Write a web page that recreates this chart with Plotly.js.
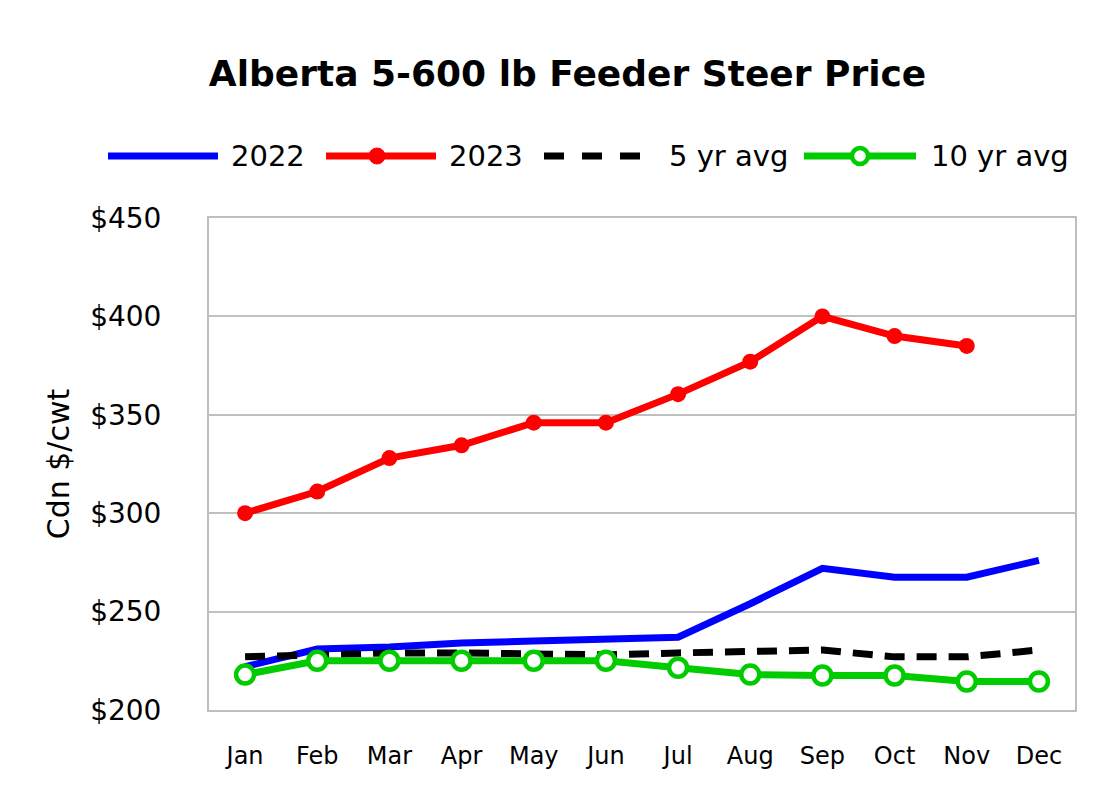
<!DOCTYPE html>
<html><head><meta charset="utf-8">
<script src="https://cdn.plot.ly/plotly-3.0.1.min.js"></script>
<style>html,body{margin:0;padding:0;background:#fff}#chart{width:1115px;height:799px}</style>
</head><body><div id="chart"></div>
<script>
const months = ["Jan","Feb","Mar","Apr","May","Jun","Jul","Aug","Sep","Oct","Nov","Dec"];
const y2022 = [222,231,232,234,235,236,237,254,272,267.5,267.5,276];
const y2023 = [300,311,328,334.5,346,346,360.5,377,400,390,385,null];
const avg5  = [227,228,229,229,228.5,228,229,229.5,230.5,227,227,230.5];
const avg10 = [218,225,225,225,225,225,221.5,218,217.5,217.5,214.5,214.5];
const seriesNames = ["2022","2023","5 yr avg","10 yr avg"];
const yTicks = [200,250,300,350,400,450];
const yTickText = yTicks.map(v => "$" + v);

const FONT = "'DejaVu Sans', sans-serif";
const GREEN = "#00cc00";

const traces = [
  {x: months, y: y2022, name: seriesNames[0], mode: "lines", line: {color: "#0000ff", width: 7}},
  {x: months, y: avg5, name: seriesNames[2], mode: "lines", line: {color: "#000000", width: 7, dash: "20px,12px"}},
  {x: months, y: avg10, name: seriesNames[3], mode: "lines+markers", line: {color: GREEN, width: 7},
   marker: {symbol: "circle", size: 18, color: "#ffffff", line: {color: GREEN, width: 4.5}}},
  {x: months, y: y2023, name: seriesNames[1], mode: "lines+markers", line: {color: "#ff0000", width: 7},
   marker: {symbol: "circle", size: 16, color: "#ff0000"}}
];

// custom legend (paper coordinates)
const W = 1115, H = 799, ml = 209, mr = 40, mt = 218, mb = 89;
const pw = W - ml - mr, ph = H - mt - mb;
const px = x => (x - ml) / pw;
const py = y => (H - mb - y) / ph;
const ly = 156;
const shapes = [
  {type:"line", xref:"paper", yref:"paper", x0:px(108), x1:px(218), y0:py(ly), y1:py(ly), line:{color:"#0000ff", width:7}},
  {type:"line", xref:"paper", yref:"paper", x0:px(326), x1:px(436), y0:py(ly), y1:py(ly), line:{color:"#ff0000", width:7}},
  {type:"circle", xref:"paper", yref:"paper", x0:px(369), x1:px(385), y0:py(ly+8), y1:py(ly-8), fillcolor:"#ff0000", line:{color:"#ff0000", width:1}},
  {type:"line", xref:"paper", yref:"paper", x0:px(544), x1:px(640), y0:py(ly), y1:py(ly), line:{color:"#000000", width:7, dash:"20px,18px"}},
  {type:"line", xref:"paper", yref:"paper", x0:px(804), x1:px(916), y0:py(ly), y1:py(ly), line:{color:GREEN, width:7}},
  {type:"circle", xref:"paper", yref:"paper", x0:px(852), x1:px(868), y0:py(ly+8), y1:py(ly-8), fillcolor:"#ffffff", line:{color:GREEN, width:4.5}}
];
const legText = [[229, seriesNames[0]],[447, seriesNames[1]],[667, seriesNames[2]],[929, seriesNames[3]]];
const annotations = legText.map(([x,t]) => ({
  xref:"paper", yref:"paper", x:px(x), y:py(ly), xanchor:"left", yanchor:"middle",
  text:t, showarrow:false, font:{family:FONT, size:29, color:"#000"}
}));

const layout = {
  width: W, height: H,
  margin: {l: ml, r: mr, t: mt, b: mb},
  paper_bgcolor: "#fff", plot_bgcolor: "#fff",
  showlegend: false,
  title: {text: "<b>Alberta 5-600 lb Feeder Steer Price</b>", x: 0.509, xanchor: "center", y: 0.908, yanchor: "middle",
          font: {family: FONT, size: 36, color: "#000"}},
  xaxis: {type: "category", range: [-0.5, 11.5], showgrid: false, zeroline: false,
          showline: true, linecolor: "#bfbfbf", linewidth: 2, mirror: true, ticks: "",
          tickfont: {family: FONT, size: 24, color: "#000"}, ticklabelstandoff: 23},
  yaxis: {range: [200, 450], tickvals: yTicks, ticktext: yTickText, showgrid: true, gridcolor: "#c0c0c0", gridwidth: 2,
          zeroline: false, showline: true, linecolor: "#bfbfbf", linewidth: 2, mirror: true, ticks: "",
          tickfont: {family: FONT, size: 28, color: "#000"}, ticklabelstandoff: 40,
          title: {text: "Cdn $/cwt", font: {family: FONT, size: 30, color: "#000"}, standoff: 12}},
  shapes: shapes,
  annotations: annotations
};
Plotly.newPlot("chart", traces, layout, {displayModeBar: false, staticPlot: true});
</script></body></html>
